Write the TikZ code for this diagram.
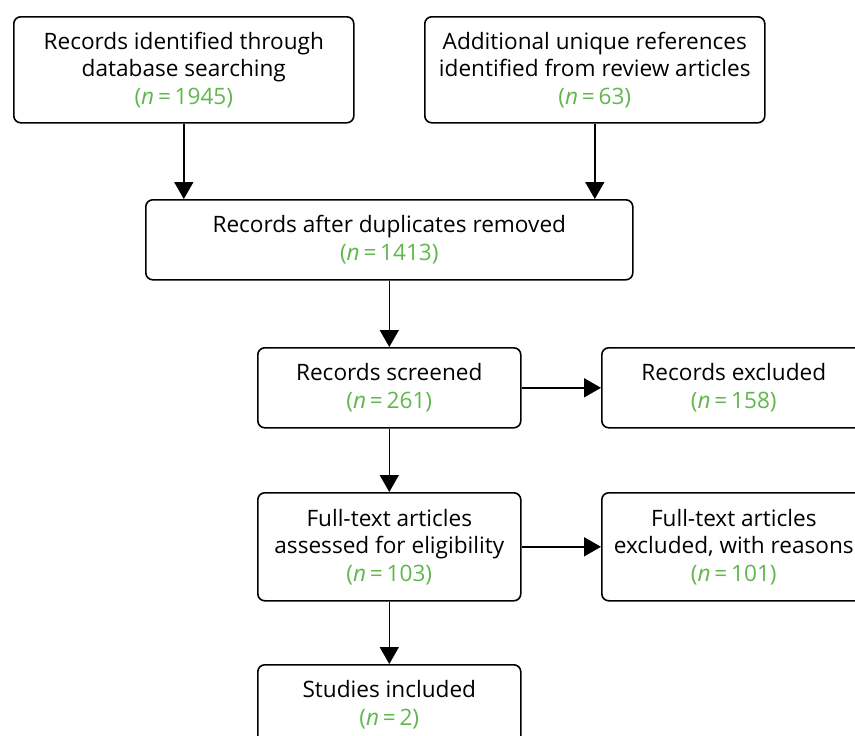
\documentclass[tikz,border=0pt]{standalone}
\usepackage{fontspec}
\setmainfont{Open Sans}
\usetikzlibrary{arrows.meta}
\definecolor{ngreen}{RGB}{96,184,76}
\newcommand{\nval}[1]{\textcolor{ngreen}{(\textit{n}\,=\,#1)}}
\begin{document}
\begin{tikzpicture}[x=1pt,y=-1pt,
  box/.style={draw=black,line width=1.6pt,rounded corners=7pt,fill=white,anchor=north west,
    align=center,inner sep=0pt,font=\fontsize{22.6}{27.6}\selectfont},
  arr/.style={line width=1.6pt,-{Triangle[width=19pt,length=17pt]}}]
\useasboundingbox (0,0) rectangle (855,736);
\clip (0,0) rectangle (855,736);
\node[box,minimum width=340pt,minimum height=106pt] (b1) at (13,16) {Records identified through\\database searching\\\nval{1945}};
\node[box,minimum width=340pt,minimum height=106pt] (b2) at (424,16) {Additional unique references\\identified from review articles\\\nval{63}};
\node[box,minimum width=487pt,minimum height=80pt] (b3) at (145,199) {Records after duplicates removed\\\nval{1413}};
\node[box,minimum width=263pt,minimum height=80pt] (b4) at (257,347) {Records screened\\\nval{261}};
\node[box,minimum width=264pt,minimum height=80pt] (b5) at (601,347) {Records excluded\\\nval{158}};
\node[box,minimum width=263pt,minimum height=108pt] (b6) at (257,492) {Full-text articles\\assessed for eligibility\\\nval{103}};
\node[box,minimum width=264pt,minimum height=108pt] (b7) at (601,492) {Full-text articles\\excluded, with reasons\\\nval{101}};
\node[box,minimum width=263pt,minimum height=80pt] (b8) at (257,664) {Studies included\\\nval{2}};
\draw[arr] (b1.south) -- (b1.south |- b3.north);
\draw[arr] (b2.south) -- (b2.south |- b3.north);
\draw[arr] (b3.south -| b4.north) -- (b4.north);
\draw[arr] (b4.south) -- (b6.north);
\draw[arr] (b6.south) -- (b8.north);
\draw[arr] (b4.east) -- (b5.west);
\draw[arr] (b6.east) -- (b7.west);
\end{tikzpicture}
\end{document}
